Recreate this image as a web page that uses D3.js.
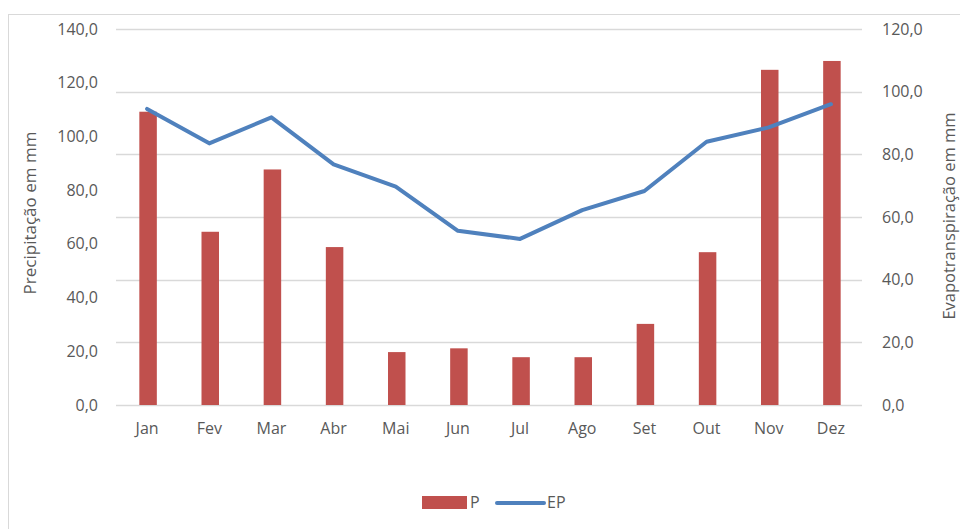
<!DOCTYPE html>
<html>
<head>
<meta charset="utf-8">
<script src="https://cdn.jsdelivr.net/npm/d3@7"></script>
<style>
  body { margin: 0; background: #fff; }
  text { font-family: "Open Sans", "Liberation Sans", sans-serif; fill: #595959; }
</style>
</head>
<body>
<div id="chart"></div>
<script>
// months and series
var months = ["Jan", "Fev", "Mar", "Abr", "Mai", "Jun", "Jul", "Ago", "Set", "Out", "Nov", "Dez"];
var precip = [109.2, 64.5, 87.7, 58.8, 19.7, 21.1, 17.8, 17.8, 30.2, 56.9, 124.8, 128.1];
var evapo = [94.5, 83.5, 91.8, 76.8, 69.7, 55.6, 53.0, 62.2, 68.3, 84.0, 88.6, 96.0];
var leftTicks = [0, 20, 40, 60, 80, 100, 120, 140];
var rightTicks = [0, 20, 40, 60, 80, 100, 120];

var width = 960, height = 529;
var x0 = 116, x1 = 862, yTop = 29, yBot = 405;

var fmt = function(v) { return d3.format(".1f")(v).replace(".", ","); };

var svg = d3.select("#chart").append("svg")
    .attr("width", width)
    .attr("height", height);

// chart border
svg.append("rect")
    .attr("x", 8.5).attr("y", 14.5)
    .attr("width", 1000).attr("height", 1000)
    .attr("fill", "none")
    .attr("stroke", "#d9d9d9");

var x = d3.scaleBand().domain(months).range([x0, x1]);
var yL = d3.scaleLinear().domain([0, 140]).range([yBot, yTop]);
var yR = d3.scaleLinear().domain([0, 120]).range([yBot, yTop]);

// gridlines follow the secondary axis
svg.append("g").selectAll("line")
    .data(rightTicks)
    .enter().append("line")
    .attr("x1", x0).attr("x2", x1)
    .attr("y1", function(d) { return Math.round(yR(d)) + 0.5; })
    .attr("y2", function(d) { return Math.round(yR(d)) + 0.5; })
    .attr("stroke", "#d9d9d9")
    .attr("stroke-width", 1.5);

// left axis labels
var axL = svg.append("g")
    .attr("transform", "translate(" + (x0 - 12) + ",0)")
    .call(d3.axisLeft(yL).tickValues(leftTicks).tickFormat(fmt).tickSize(0).tickPadding(6));
axL.select(".domain").remove();
axL.selectAll("text").style("font-size", "16px").attr("fill", "#595959");

// right axis labels
var axR = svg.append("g")
    .attr("transform", "translate(" + (x1 + 14) + ",0)")
    .call(d3.axisRight(yR).tickValues(rightTicks).tickFormat(fmt).tickSize(0).tickPadding(6));
axR.select(".domain").remove();
axR.selectAll("text").style("font-size", "16px").attr("fill", "#595959");

// month labels
var axB = svg.append("g")
    .attr("transform", "translate(0," + yBot + ")")
    .call(d3.axisBottom(x).tickSize(0).tickPadding(18));
axB.select(".domain").remove();
axB.selectAll("text").style("font-size", "16px").attr("fill", "#595959");

// bars
var bw = 17.5;
svg.append("g").selectAll("rect")
    .data(precip)
    .enter().append("rect")
    .attr("x", function(d, i) { return x(months[i]) + x.bandwidth() / 2 - bw / 2 + 1; })
    .attr("y", function(d) { return yL(d); })
    .attr("width", bw)
    .attr("height", function(d) { return yBot - yL(d); })
    .attr("fill", "#c0504d");

// EP line
var line = d3.line()
    .x(function(d, i) { return x(months[i]) + x.bandwidth() / 2; })
    .y(function(d) { return yR(d); });

svg.append("path")
    .datum(evapo)
    .attr("d", line)
    .attr("fill", "none")
    .attr("stroke", "#4f81bd")
    .attr("stroke-width", 4)
    .attr("stroke-linejoin", "round")
    .attr("stroke-linecap", "round");

// axis titles
svg.append("text")
    .attr("transform", "translate(36,213) rotate(-90)")
    .attr("text-anchor", "middle")
    .style("font-size", "17px")
    .text("Precipitação em mm");

svg.append("text")
    .attr("transform", "translate(955,216) rotate(-90)")
    .attr("text-anchor", "middle")
    .style("font-size", "16.5px")
    .text("Evapotranspiração em mm");

// legend
var leg = svg.append("g");
leg.append("rect")
    .attr("x", 422).attr("y", 496)
    .attr("width", 45).attr("height", 13)
    .attr("fill", "#c0504d");
leg.append("text")
    .attr("x", 470).attr("y", 508)
    .style("font-size", "16px")
    .text("P");
leg.append("line")
    .attr("x1", 497).attr("x2", 544)
    .attr("y1", 503).attr("y2", 503)
    .attr("stroke", "#4f81bd")
    .attr("stroke-width", 4)
    .attr("stroke-linecap", "round");
leg.append("text")
    .attr("x", 547).attr("y", 508)
    .style("font-size", "16px")
    .text("EP");
</script>
</body>
</html>
